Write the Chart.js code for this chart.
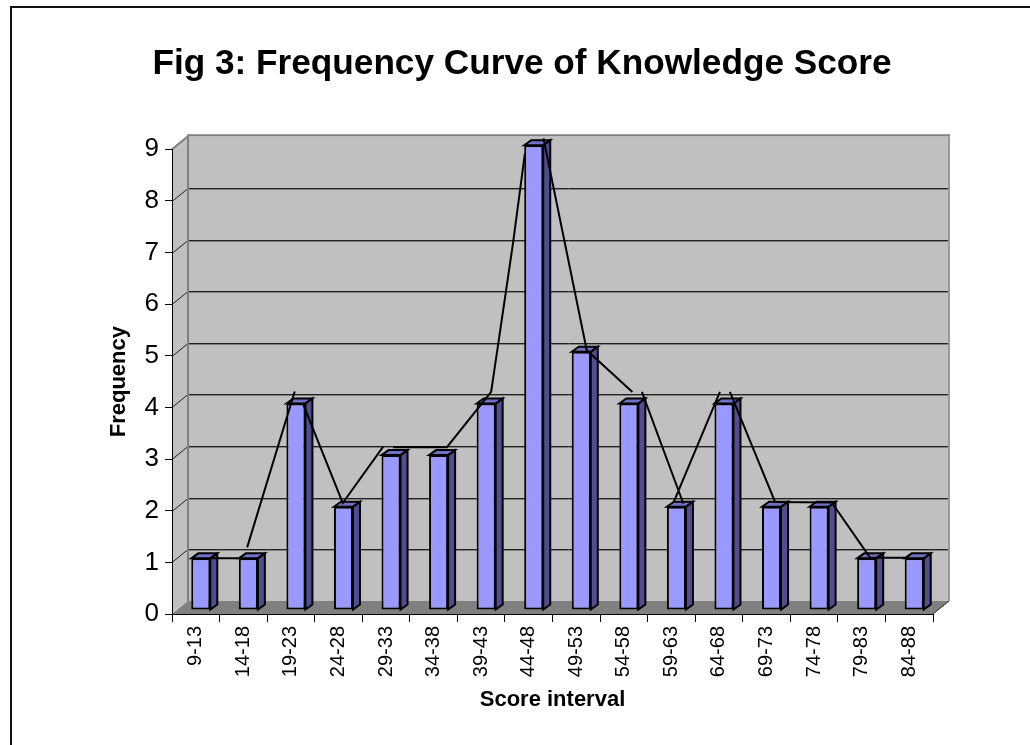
<!DOCTYPE html>
<html>

<head>
    <title>Fig 3: Frequency Curve of Knowledge Score</title>
    <script src="https://cdn.jsdelivr.net/npm/chart.js@4/dist/chart.umd.min.js"></script>
    <style>
        html, body {
            margin: 0;
            padding: 0;
            background: white;
            overflow: hidden;
        }

        #frame {
            position: absolute;
            left: 10px;
            top: 6px;
            right: 0;
            bottom: 0;
            border-left: 2px solid #111;
            border-top: 2px solid #111;
        }

        #chart-box {
            position: absolute;
            left: 0;
            top: 0;
            width: 1030px;
            height: 745px;
        }
    </style>
</head>

<body>
    <div id="frame"></div>
    <div id="chart-box"><canvas id="chart" width="1030" height="745"></canvas></div>
    <script>
        var categories = ["9-13", "14-18", "19-23", "24-28", "29-33", "34-38", "39-43", "44-48",
            "49-53", "54-58", "59-63", "64-68", "69-73", "74-78", "79-83", "84-88"];
        var frequency = [1, 1, 4, 2, 3, 3, 4, 9, 5, 4, 2, 4, 2, 2, 1, 1];

        // The curve was drawn by hand over the chart, so it has its own broken pieces.
        // Position is in category widths from the axis start, null is a break in the line.
        var curveX = [0.80, 1.39, null, 1.58, 2.58, null, 2.75, 3.59, 4.44, null, 4.65, 5.78, 6.71, 6.83, 7.17, 7.42, null,
            7.81, 8.72, 8.79, 9.68, null, 9.88, 10.75, null, 10.55, 11.52, null, 11.73, 12.68, 13.87, 14.68, 15.41];
        var curveY = [1.08, 1.08, null, 1.29, 4.31, null, 4.08, 2.15, 3.24, null, 3.23, 3.23, 4.30, 5.05, 7.18, 8.92, null,
            9.21, 5.11, 5.05, 4.30, null, 4.30, 2.14, null, 2.17, 4.30, null, 4.30, 2.17, 2.16, 1.09, 1.09];

        var curvePoints = curveX.map(function(x, i) {
            return { x: x, y: curveY[i] };
        });

        // Depth of the fake 3D box and of the bars
        var wallDx = 16, wallDy = -13;
        var barShiftX = 5, barShiftY = -4;
        var barDepthX = 7, barDepthY = -5;

        function fillShape(ctx, color, pts) {
            ctx.fillStyle = color;
            ctx.beginPath();
            ctx.moveTo(pts[0][0], pts[0][1]);
            for (var i = 1; i < pts.length; i++) {
                ctx.lineTo(pts[i][0], pts[i][1]);
            }
            ctx.closePath();
            ctx.fill();
        }

        function strokeLine(ctx, color, width, x1, y1, x2, y2) {
            ctx.strokeStyle = color;
            ctx.lineWidth = width;
            ctx.beginPath();
            ctx.moveTo(x1, y1);
            ctx.lineTo(x2, y2);
            ctx.stroke();
        }

        var boxPlugin = {
            id: "box3d",
            // walls and floor go behind everything
            beforeDraw: function(chart) {
                var ctx = chart.ctx;
                var a = chart.chartArea;
                var y = chart.scales.y;
                var top = y.getPixelForValue(9);
                var bottom = y.getPixelForValue(0);
                ctx.save();
                fillShape(ctx, "#c0c0c0", [[a.left + wallDx, top + wallDy], [a.right + wallDx, top + wallDy],
                    [a.right + wallDx, bottom + wallDy], [a.left + wallDx, bottom + wallDy]]);
                fillShape(ctx, "#c0c0c0", [[a.left, top], [a.left + wallDx, top + wallDy],
                    [a.left + wallDx, bottom + wallDy], [a.left, bottom]]);
                fillShape(ctx, "#808080", [[a.left, bottom], [a.left + wallDx, bottom + wallDy],
                    [a.right + wallDx, bottom + wallDy], [a.right, bottom]]);

                for (var v = 1; v < 9; v++) {
                    var py = Math.round(y.getPixelForValue(v) + wallDy) + 0.5;
                    strokeLine(ctx, "#222", 1, a.left + wallDx, py, a.right + wallDx, py);
                    strokeLine(ctx, "#808080", 1, a.left + wallDx, py + 1, a.right + wallDx, py + 1);
                    strokeLine(ctx, "#222", 1, a.left, py - wallDy, a.left + wallDx, py);
                }
                strokeLine(ctx, "#808080", 2, a.left, top, a.left + wallDx, top + wallDy);
                strokeLine(ctx, "#808080", 2, a.left + wallDx - 1, top + wallDy - 1, a.right + wallDx + 1, top + wallDy - 1);
                strokeLine(ctx, "#808080", 2, a.left + wallDx, top + wallDy, a.left + wallDx, bottom + wallDy);
                strokeLine(ctx, "#999", 2, a.right + wallDx, top + wallDy, a.right + wallDx, bottom + wallDy);
                strokeLine(ctx, "#222", 1, a.right, bottom, a.right + wallDx, bottom + wallDy);
                ctx.restore();
            },
            // bars stand a little inside the floor
            beforeDatasetDraw: function(chart, args) {
                if (args.index === 0) {
                    chart.ctx.save();
                    chart.ctx.translate(barShiftX, barShiftY);
                }
            },
            afterDatasetDraw: function(chart, args) {
                if (args.index !== 0) {
                    return;
                }
                var ctx = chart.ctx;
                args.meta.data.forEach(function(bar) {
                    var l = bar.x - bar.width / 2;
                    var r = bar.x + bar.width / 2;
                    var t = bar.y;
                    var b = bar.base;
                    var side = [[r, t], [r + barDepthX, t + barDepthY], [r + barDepthX, b + barDepthY], [r, b]];
                    var cap = [[l, t], [l + barDepthX, t + barDepthY], [r + barDepthX, t + barDepthY], [r, t]];
                    fillShape(ctx, "#4f4f8f", side);
                    fillShape(ctx, "#7070c4", cap);
                    ctx.strokeStyle = "#000";
                    ctx.lineWidth = 2;
                    [side, cap].forEach(function(pts) {
                        ctx.beginPath();
                        ctx.moveTo(pts[0][0], pts[0][1]);
                        for (var i = 1; i < pts.length; i++) {
                            ctx.lineTo(pts[i][0], pts[i][1]);
                        }
                        ctx.closePath();
                        ctx.stroke();
                    });
                });
                ctx.restore();
            }
        };

        var ctx = document.getElementById("chart").getContext("2d");
        var chart = new Chart(ctx, {
            data: {
                labels: categories,
                datasets: [{
                    type: "bar",
                    data: frequency,
                    backgroundColor: "#9999ff",
                    borderColor: "#000",
                    borderWidth: 2,
                    borderSkipped: false,
                    barPercentage: 0.4,
                    categoryPercentage: 1,
                    grouped: false,
                    clip: false,
                    order: 2
                }, {
                    type: "scatter",
                    data: curvePoints,
                    xAxisID: "curveX",
                    showLine: true,
                    spanGaps: false,
                    borderColor: "#000",
                    borderWidth: 2,
                    pointRadius: 0,
                    clip: false,
                    order: 1
                }]
            },
            plugins: [boxPlugin],
            options: {
                responsive: false,
                animation: false,
                layout: {
                    padding: { left: 111, right: 97, top: 0, bottom: 36 }
                },
                plugins: {
                    legend: { display: false },
                    tooltip: { enabled: false },
                    title: {
                        display: true,
                        text: "Fig 3: Frequency Curve of Knowledge Score",
                        color: "#000",
                        font: { family: "'Liberation Sans', Arial, sans-serif", size: 35.2, weight: "bold" },
                        padding: { top: 43, bottom: 64 }
                    }
                },
                scales: {
                    x: {
                        type: "category",
                        offset: true,
                        afterFit: function(scale) {
                            scale.height = 95;
                        },
                        border: { color: "#000", width: 1 },
                        grid: { drawOnChartArea: false, tickLength: 8, tickColor: "#000", offset: true },
                        ticks: {
                            color: "#000",
                            autoSkip: false,
                            minRotation: 90,
                            maxRotation: 90,
                            padding: 4,
                            font: { family: "'Liberation Sans', Arial, sans-serif", size: 20 }
                        },
                        title: {
                            display: true,
                            text: "Score interval",
                            color: "#000",
                            padding: { top: 0, bottom: -4.5 },
                            font: { family: "'Liberation Sans', Arial, sans-serif", size: 22, weight: "bold" }
                        }
                    },
                    curveX: {
                        type: "linear",
                        display: false,
                        min: 0,
                        max: 16
                    },
                    y: {
                        min: 0,
                        max: 9,
                        afterFit: function(scale) {
                            scale.width = 61;
                        },
                        border: { color: "#000", width: 1 },
                        grid: { drawOnChartArea: false, tickLength: 7, tickColor: "#000" },
                        ticks: {
                            color: "#000",
                            stepSize: 1,
                            padding: 6,
                            font: { family: "'Liberation Sans', Arial, sans-serif", size: 26 }
                        },
                        title: {
                            display: true,
                            text: "Frequency",
                            color: "#000",
                            padding: { top: -5, bottom: 0 },
                            font: { family: "'Liberation Sans', Arial, sans-serif", size: 22, weight: "bold" }
                        }
                    }
                }
            }
        });
    </script>
</body>

</html>
